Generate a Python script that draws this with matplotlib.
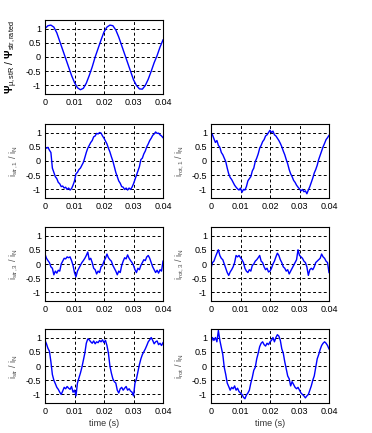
import numpy as np
import matplotlib
matplotlib.use("Agg")
import matplotlib.pyplot as plt

plt.rcParams["font.family"] = ["Liberation Sans", "DejaVu Sans"]
plt.rcParams["mathtext.fontset"] = "custom"
plt.rcParams["mathtext.rm"] = "Liberation Sans"
plt.rcParams["mathtext.it"] = "Liberation Sans"
plt.rcParams["mathtext.bf"] = "Liberation Sans:bold"

# time axis of the sampled traces (s)
t_flux = np.linspace(0, 0.04, 41)
t_cur = np.linspace(0, 0.04, 81)

flux = [1.0, 1.1, 1.12, 1.05, 0.85, 0.55, 0.25, -0.05, -0.35, -0.65,
        -0.9, -1.08, -1.15, -1.1, -0.92, -0.65, -0.35, 0.0, 0.3, 0.6,
        0.88, 1.05, 1.12, 1.1, 0.95, 0.7, 0.4, 0.1, -0.2, -0.5,
        -0.8, -1.0, -1.12, -1.13, -1.0, -0.78, -0.5, -0.2, 0.05, 0.35, 0.6]

i_str1 = [0.50, 0.45, 0.48, 0.38, 0.30, -0.25, -0.40, -0.55, -0.62, -0.75,
          -0.80, -0.90, -0.88, -0.95, -0.92, -1.00, -0.95, -1.02, -0.97, -0.85,
          -0.70, -0.45, -0.40, -0.30, -0.25, -0.15, -0.05, 0.12, 0.30, 0.45,
          0.55, 0.65, 0.72, 0.85, 0.88, 0.97, 0.95, 1.00, 0.98, 0.88,
          0.80, 0.70, 0.60, 0.45, 0.32, 0.15, 0.00, -0.20, -0.40, -0.55,
          -0.70, -0.78, -0.90, -0.92, -1.00, -0.95, -1.02, -0.95, -1.00, -0.92,
          -0.80, -0.65, -0.50, -0.35, -0.20, 0.05, 0.10, 0.25, 0.35, 0.50,
          0.60, 0.72, 0.80, 0.90, 0.95, 1.02, 0.97, 0.98, 0.92, 0.88, 0.82]

i_rot1 = [1.00, 0.92, 0.78, 0.65, 0.72, 0.55, 0.48, 0.30, 0.22, 0.10,
          -0.02, -0.25, -0.45, -0.58, -0.65, -0.75, -0.85, -0.92, -0.98, -1.02,
          -0.95, -1.10, -1.00, -1.02, -0.90, -0.70, -0.62, -0.55, -0.35, -0.25,
          -0.02, 0.10, 0.25, 0.45, 0.55, 0.68, 0.75, 0.88, 0.92, 1.00,
          1.08, 1.00, 1.05, 0.92, 0.88, 0.80, 0.72, 0.62, 0.50, 0.35,
          0.22, 0.05, -0.10, -0.30, -0.45, -0.55, -0.68, -0.75, -0.85, -0.92,
          -0.98, -1.05, -1.00, -1.08, -1.05, -1.15, -1.02, -0.90, -0.75, -0.60,
          -0.42, -0.30, -0.15, 0.05, 0.20, 0.35, 0.50, 0.62, 0.75, 0.82, 0.90]

i_str3 = [0.35, 0.20, 0.12, 0.05, -0.10, -0.15, -0.38, -0.25, -0.32, -0.22,
          -0.25, 0.00, 0.10, 0.20, 0.18, 0.25, 0.22, 0.25, 0.12, -0.05,
          -0.30, -0.45, -0.25, -0.15, -0.05, 0.05, 0.12, 0.20, 0.30, 0.42,
          0.15, 0.20, 0.05, -0.15, -0.20, -0.35, -0.25, -0.30, -0.10, -0.05,
          0.10, 0.20, 0.35, 0.22, 0.15, 0.10, -0.05, -0.15, -0.25, -0.38,
          -0.25, -0.30, -0.05, 0.10, 0.22, 0.18, 0.32, 0.20, 0.12, 0.05,
          -0.05, -0.20, -0.30, -0.15, -0.20, -0.05, 0.05, 0.15, 0.12, 0.25,
          0.30, 0.20, 0.05, -0.10, -0.20, -0.30, -0.22, -0.32, -0.20, -0.25, 0.10]

i_rot3 = [-0.15, 0.05, 0.10, 0.25, 0.38, 0.50, 0.30, 0.20, 0.15, 0.00,
          -0.15, -0.30, -0.40, -0.28, -0.20, -0.10, 0.05, 0.30, 0.25, 0.30,
          0.22, 0.15, 0.05, -0.15, -0.25, -0.30, -0.20, -0.25, -0.05, 0.00,
          0.10, 0.15, 0.22, 0.30, 0.10, 0.05, -0.10, -0.20, -0.15, -0.28,
          -0.25, -0.15, 0.00, 0.10, 0.25, 0.38, 0.30, 0.15, 0.05, -0.10,
          -0.15, -0.25, -0.20, -0.35, -0.25, -0.15, -0.05, 0.05, 0.15, 0.50,
          0.30, 0.25, 0.20, 0.10, 0.05, -0.10, -0.40, -0.20, -0.15, -0.20,
          -0.10, 0.05, 0.10, 0.15, 0.20, 0.35, 0.25, 0.20, 0.10, 0.05, -0.30]

i_str = [0.90, 0.78, 0.62, 0.52, 0.15, -0.30, -0.50, -0.62, -0.75, -0.82,
         -0.92, -1.00, -0.88, -0.75, -0.80, -0.72, -0.78, -0.82, -0.72, -0.92,
         -0.85, -1.05, -0.60, -0.42, -0.25, -0.05, 0.20, 0.45, 0.80, 0.95,
         0.92, 0.85, 0.80, 0.88, 0.78, 0.85, 0.82, 0.90, 0.85, 0.92,
         0.82, 0.90, 0.72, 0.45, 0.00, -0.25, -0.45, -0.55, -0.60, -0.85,
         -0.95, -0.80, -0.75, -0.85, -0.78, -0.72, -0.85, -0.80, -0.88, -0.92,
         -1.05, -0.60, -0.45, -0.20, 0.05, 0.25, 0.40, 0.50, 0.60, 0.72,
         0.85, 0.92, 1.00, 0.90, 0.78, 0.85, 0.88, 0.75, 0.80, 0.72, 0.82]

i_rot = [0.80, 1.00, 0.90, 1.00, 0.85, 1.25, 0.90, 0.65, 0.40, -0.05,
         -0.30, -0.60, -0.72, -0.85, -0.75, -0.80, -0.70, -0.85, -0.78, -0.90,
         -0.95, -1.00, -1.10, -1.15, -1.02, -0.95, -0.85, -0.60, -0.40, -0.15,
         -0.05, 0.25, 0.45, 0.68, 0.80, 0.85, 0.75, 0.70, 0.80, 0.75,
         0.85, 0.90, 1.00, 0.85, 1.00, 1.10, 1.05, 0.90, 0.60, 0.45,
         0.15, -0.10, -0.35, -0.45, -0.70, -0.55, -0.65, -0.75, -0.80, -0.75,
         -0.85, -0.95, -1.00, -1.05, -1.12, -1.05, -1.00, -0.85, -0.70, -0.50,
         -0.35, -0.05, 0.25, 0.40, 0.58, 0.72, 0.80, 0.85, 0.80, 0.72, 0.60]

xticks = [0, 0.01, 0.02, 0.03, 0.04]
yticks = [-1, -0.5, 0, 0.5, 1]

fig = plt.figure(figsize=(3.72, 4.33), dpi=100)

W, H = 118 / 372, 74 / 433
lefts = [45 / 372, 211 / 372]
bottoms = [1 - 94 / 433, 1 - 198 / 433, 1 - 301 / 433, 1 - 403 / 433]

panels = [
    (0, 0, t_flux, flux, r"$\mathbf{\Psi}_{\mu,stR}$ / $\mathbf{\Psi}_{str,rated}$"),
    (1, 0, t_cur, i_str1, r"i$_{str,1}$ / i$_N$"),
    (1, 1, t_cur, i_rot1, r"i$_{rot,1}$ / i$_N$"),
    (2, 0, t_cur, i_str3, r"i$_{str,3}$ / i$_N$"),
    (2, 1, t_cur, i_rot3, r"i$_{rot,3}$ / i$_N$"),
    (3, 0, t_cur, i_str, r"i$_{str}$ / i$_N$"),
    (3, 1, t_cur, i_rot, r"i$_{rot}$ / i$_N$"),
]

for row, col, t, y, label in panels:
    ax = fig.add_axes([lefts[col], bottoms[row], W, H])
    ax.plot(t, y, color="blue", linewidth=1.0)
    ax.set_xlim(0, 0.04)
    ax.set_ylim(-1.3, 1.3)
    ax.set_xticks(xticks)
    ax.set_xticklabels(["0", "0.01", "0.02", "0.03", "0.04"])
    ax.set_yticks(yticks)
    ax.set_yticklabels(["-1", "-0.5", "0", "0.5", "1"])
    ax.tick_params(labelsize=6.5, direction="in", length=2, width=0.6, pad=3)
    ax.grid(True, color="black", linestyle=(0, (3, 2.5)), linewidth=0.7)
    for s in ax.spines.values():
        s.set_linewidth(0.8)
    ax.set_ylabel(label, fontsize=7.5 if row == 0 else 6.5, labelpad=4,
                  color="black" if row == 0 else "#555555")
    if row == 3:
        ax.set_xlabel("time (s)", fontsize=6.5, labelpad=2, color="#333333")

fig.savefig("out.png", dpi=100)
